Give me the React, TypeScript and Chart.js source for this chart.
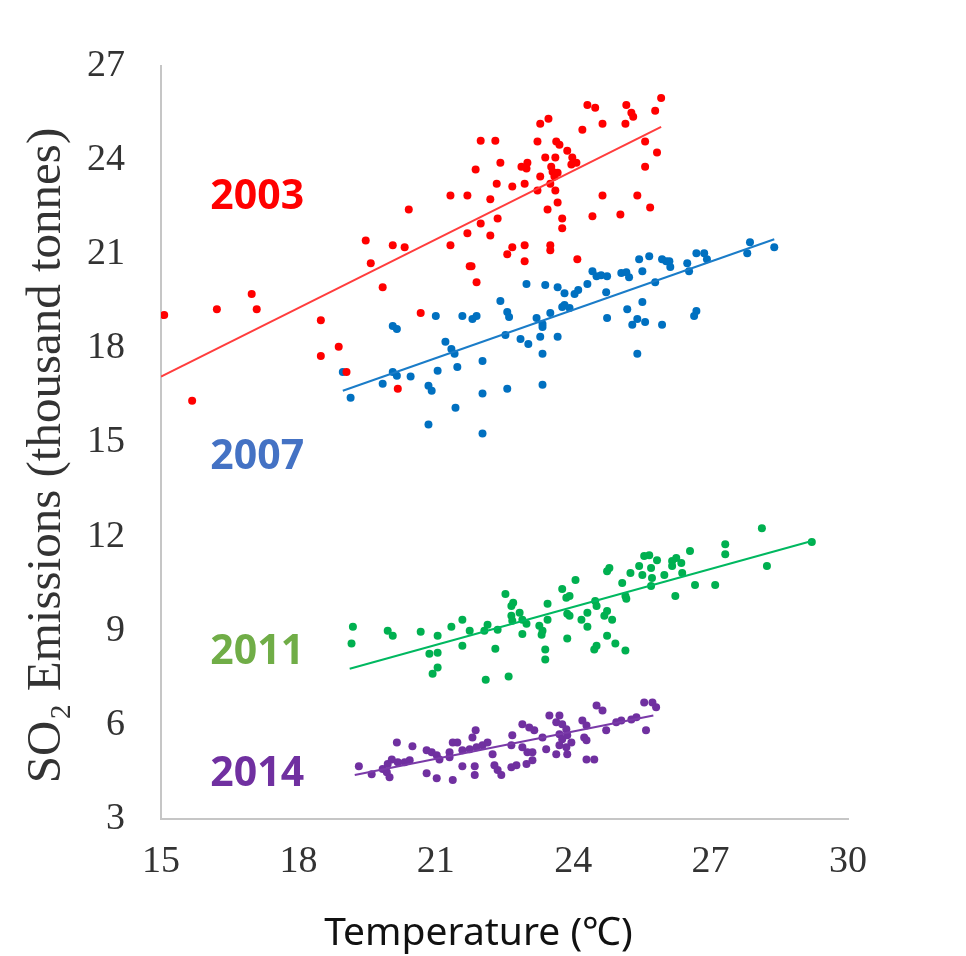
import React, { useEffect, useRef } from 'react';
import { Chart, registerables } from 'chart.js';

Chart.register(...registerables);

// ---- Data (Temperature °C vs SO2 emissions, thousand tonnes) ----
const red2003X = [15.07, 16.22, 16.98, 17.09, 18.49, 18.88, 18.49, 15.68, 19.84, 19.05, 20.17, 21.98, 22.30, 22.41, 21.87, 22.33, 22.67, 22.94, 22.87, 21.32, 21.69, 22.19, 20.41, 21.98, 22.35, 21.69, 22.19, 19.47, 20.06, 20.32, 21.32, 19.58, 22.67, 22.56, 22.94, 22.94, 21.78, 21.89, 20.67, 25.92, 25.79, 24.31, 24.48, 25.16, 25.27, 25.31, 23.46, 23.28, 24.20, 24.64, 25.14, 25.57, 25.83, 25.57, 23.22, 23.63, 23.70, 23.87, 23.39, 23.61, 23.98, 24.07, 23.96, 23.00, 22.98, 23.52, 23.55, 23.66, 23.59, 23.28, 23.50, 23.22, 23.61, 23.66, 23.44, 24.64, 25.40, 25.68, 24.42, 25.03, 23.76, 23.76, 23.50, 23.50, 24.09, 21.74];
const red2003Y = [19.06, 19.25, 19.73, 19.25, 18.90, 18.05, 17.76, 16.33, 19.95, 17.25, 16.71, 24.62, 24.62, 23.92, 23.70, 23.25, 23.16, 23.25, 23.79, 22.87, 22.87, 22.75, 22.43, 21.98, 22.14, 21.67, 21.60, 21.44, 21.29, 21.22, 21.29, 20.71, 21.22, 21.00, 21.29, 20.78, 20.62, 20.11, 19.13, 25.98, 25.57, 25.76, 25.67, 25.76, 25.51, 25.38, 25.32, 25.16, 24.97, 25.16, 25.16, 24.59, 24.24, 23.79, 24.59, 24.59, 24.49, 24.30, 24.08, 24.08, 24.08, 23.92, 23.86, 23.92, 23.73, 23.79, 23.63, 23.60, 23.48, 23.48, 23.25, 23.03, 23.03, 22.65, 22.43, 22.87, 22.87, 22.49, 22.21, 22.27, 22.14, 21.83, 21.29, 21.13, 20.84, 20.62];

const blue2007X = [18.97, 19.14, 19.84, 20.06, 20.15, 20.06, 20.15, 20.45, 20.84, 20.91, 21.00, 21.58, 21.80, 21.89, 22.41, 22.56, 22.60, 21.21, 21.34, 21.41, 21.04, 21.47, 22.02, 22.02, 21.43, 20.84, 22.02, 22.56, 22.52, 22.85, 22.98, 23.02, 23.20, 23.33, 23.33, 23.28, 23.33, 23.33, 23.39, 23.50, 23.66, 23.66, 23.76, 23.81, 23.92, 23.81, 24.03, 24.11, 24.31, 24.42, 24.51, 24.61, 24.74, 24.72, 24.74, 25.05, 25.16, 25.22, 25.51, 25.18, 25.51, 25.29, 25.40, 25.57, 25.94, 25.40, 25.79, 26.03, 27.86, 27.80, 28.39, 26.69, 26.86, 26.92, 26.49, 26.53, 26.10, 26.12, 25.94, 25.44, 25.66, 26.69, 26.64];
const blue2007Y = [17.25, 16.43, 16.87, 18.71, 18.62, 17.25, 17.13, 17.10, 16.81, 16.65, 19.03, 19.03, 18.94, 19.03, 19.51, 19.16, 19.00, 18.21, 17.98, 17.83, 17.29, 17.41, 17.60, 16.56, 16.11, 15.57, 15.29, 16.71, 18.43, 18.30, 20.05, 18.14, 18.97, 18.78, 18.68, 18.37, 17.83, 16.84, 20.02, 19.13, 19.95, 18.37, 19.32, 19.38, 19.29, 19.76, 19.73, 19.86, 20.05, 20.46, 20.30, 20.33, 20.30, 19.79, 18.97, 20.40, 20.43, 20.27, 20.46, 19.25, 19.48, 18.75, 18.94, 18.84, 18.75, 17.83, 20.11, 20.78, 21.38, 21.03, 21.22, 21.03, 21.03, 20.84, 20.71, 20.46, 20.78, 20.59, 20.84, 20.84, 20.94, 19.19, 19.03];

const green2011X = [19.19, 19.16, 19.95, 20.06, 20.67, 21.04, 20.86, 21.04, 21.04, 20.93, 21.34, 21.58, 21.58, 21.74, 22.06, 22.13, 22.35, 22.30, 22.09, 22.59, 22.52, 22.65, 22.69, 22.65, 22.67, 22.83, 22.89, 22.98, 22.89, 23.44, 23.44, 23.26, 23.33, 23.31, 23.39, 23.39, 23.76, 24.05, 23.85, 23.92, 23.87, 23.92, 23.87, 24.18, 24.31, 24.31, 24.48, 24.51, 24.51, 24.46, 24.74, 24.92, 25.14, 24.68, 24.74, 24.85, 24.74, 24.79, 25.07, 25.14, 25.16, 25.25, 25.44, 25.55, 25.66, 25.83, 25.51, 25.70, 25.72, 25.70, 25.99, 26.16, 26.25, 26.36, 26.16, 26.38, 26.55, 26.23, 26.66, 27.10, 27.32, 27.32, 28.12, 28.23, 29.21];
const green2011Y = [9.13, 8.59, 9.00, 8.84, 8.97, 8.84, 8.27, 8.30, 7.83, 7.63, 9.13, 9.35, 8.52, 9.00, 9.00, 9.19, 9.03, 8.43, 7.44, 7.54, 10.17, 9.79, 9.89, 9.48, 9.32, 9.57, 9.35, 9.22, 8.90, 9.86, 9.35, 9.16, 9.00, 8.87, 8.40, 8.08, 10.33, 10.62, 10.05, 10.11, 9.54, 9.48, 8.75, 9.35, 9.57, 9.13, 9.95, 9.79, 8.52, 8.40, 8.84, 8.59, 8.37, 9.48, 9.63, 9.35, 10.90, 11.00, 10.52, 10.11, 10.02, 10.84, 11.06, 11.38, 11.41, 11.25, 10.78, 11.00, 10.68, 10.43, 10.78, 11.22, 11.32, 11.16, 11.06, 10.84, 11.54, 10.11, 10.46, 10.46, 11.76, 11.44, 12.27, 11.06, 11.83];

const purple2014X = [19.32, 19.60, 19.84, 19.93, 19.95, 19.99, 20.04, 20.17, 20.32, 20.43, 20.15, 20.49, 20.80, 20.91, 21.02, 21.08, 20.80, 21.02, 21.30, 21.30, 21.37, 21.47, 21.37, 21.58, 21.74, 21.89, 21.58, 21.85, 21.85, 21.80, 21.87, 22.02, 22.13, 22.24, 22.28, 22.35, 22.43, 22.65, 22.76, 22.65, 22.67, 22.89, 23.04, 23.15, 22.89, 23.00, 22.98, 23.11, 23.11, 23.33, 23.41, 23.48, 23.70, 23.63, 23.76, 23.85, 23.70, 23.76, 23.87, 23.70, 23.85, 23.96, 23.63, 23.87, 24.20, 24.29, 24.24, 24.29, 24.29, 24.46, 24.51, 24.64, 24.72, 24.94, 25.05, 25.27, 25.38, 25.55, 25.73, 25.81, 25.59];
const purple2014Y = [4.68, 4.43, 4.59, 4.49, 4.75, 4.33, 4.90, 4.81, 4.81, 4.87, 5.44, 5.32, 5.19, 5.13, 5.03, 4.90, 4.46, 4.30, 5.13, 4.97, 5.44, 5.44, 4.24, 5.19, 5.22, 5.29, 4.68, 4.68, 4.40, 5.60, 5.83, 5.35, 5.44, 5.06, 4.71, 4.56, 4.40, 4.65, 4.71, 5.35, 5.67, 6.02, 5.92, 5.83, 5.29, 5.13, 4.75, 4.87, 5.13, 5.60, 5.22, 6.30, 6.30, 6.08, 6.02, 5.86, 5.70, 5.54, 5.67, 5.35, 5.29, 5.44, 5.06, 5.06, 6.14, 5.98, 5.60, 5.51, 4.90, 4.90, 6.62, 6.46, 5.83, 6.08, 6.14, 6.17, 6.24, 6.71, 6.71, 6.56, 5.83];

// Linear trend lines (endpoints)
const trend2003X = [15.0, 25.92];
const trend2003Y = [17.10, 25.06];
const trend2007X = [18.97, 28.39];
const trend2007Y = [16.65, 21.48];
const trend2011X = [19.12, 29.21];
const trend2011Y = [7.79, 11.86];
const trend2014X = [19.23, 25.75];
const trend2014Y = [4.40, 6.30];

// Year labels (positioned in data units)
const yearLabels = ['2003', '2007', '2011', '2014'];
const yearLabelX = [17.1, 17.1, 17.1, 17.1];
const yearLabelY = [22.82, 14.54, 8.32, 4.43];
const yearLabelColors = ['#ff0000', '#4472c4', '#70ad47', '#7030a0'];

const xTicks = [15, 18, 21, 24, 27, 30];
const yTicks = [3, 6, 9, 12, 15, 18, 21, 24, 27];

const xTitle = 'Temperature (℃)';
const yTitle = 'SO₂ Emissions (thousand tonnes)';

const pts = (xs: number[], ys: number[]) => xs.map((x, i) => ({ x, y: ys[i] }));

export default function App() {
  const ref = useRef<HTMLCanvasElement | null>(null);

  useEffect(() => {
    if (!ref.current) return;
    const serif = '"Liberation Serif", "Times New Roman", serif';

    const labelPlugin = {
      id: 'yearLabelsAndTitles',
      afterDatasetsDraw(chart: any) {
        const { ctx, scales, chartArea } = chart;
        const xs = scales.x;
        const ys = scales.y;
        ctx.save();
        ctx.textAlign = 'center';
        ctx.textBaseline = 'middle';
        ctx.font = 'bold 41px "Noto Sans", "Open Sans", sans-serif';
        yearLabels.forEach((t, i) => {
          ctx.fillStyle = yearLabelColors[i];
          ctx.fillText(t, xs.getPixelForValue(yearLabelX[i]), ys.getPixelForValue(yearLabelY[i]));
        });
        // x-axis title
        ctx.font = '39px "Noto Sans", "Open Sans", sans-serif';
        ctx.fillStyle = '#111111';
        ctx.fillText(xTitle, chartArea.left + (chartArea.right - chartArea.left) * 0.462, chart.height - 22);
        // y-axis title
        ctx.save();
        ctx.translate(47, (chartArea.top + chartArea.bottom) / 2 + 13);
        ctx.rotate(-Math.PI / 2);
        ctx.font = `49px ${serif}`;
        ctx.fillStyle = '#333333';
        ctx.fillText(yTitle, 0, 0);
        ctx.restore();
        ctx.restore();
      },
    };

    const dot = (color: string) => ({
      backgroundColor: color,
      borderColor: color,
      pointRadius: 4,
      pointBorderWidth: 0,
      pointHoverRadius: 4,
      showLine: false,
      order: 2,
    });
    const trend = (color: string) => ({
      borderColor: color,
      backgroundColor: color,
      borderWidth: 2,
      pointRadius: 0,
      showLine: true,
      fill: false,
      order: 1,
    });

    const chart = new Chart(ref.current, {
      type: 'scatter',
      data: {
        datasets: [
          { label: '2003', data: pts(red2003X, red2003Y), ...dot('#ff0000') },
          { label: '2007', data: pts(blue2007X, blue2007Y), ...dot('#0070c0') },
          { label: '2011', data: pts(green2011X, green2011Y), ...dot('#00b050') },
          { label: '2014', data: pts(purple2014X, purple2014Y), ...dot('#7030a0') },
          { label: 'trend 2003', data: pts(trend2003X, trend2003Y), ...trend('#ff3d3d') },
          { label: 'trend 2007', data: pts(trend2007X, trend2007Y), ...trend('#1a7cc8') },
          { label: 'trend 2011', data: pts(trend2011X, trend2011Y), ...trend('#00b860') },
          { label: 'trend 2014', data: pts(trend2014X, trend2014Y), ...trend('#7a3aa8') },
        ] as any,
      },
      options: {
        animation: false,
        responsive: true,
        maintainAspectRatio: false,
        layout: { padding: { left: 0, right: 118, top: 66, bottom: 0 } },
        plugins: {
          legend: { display: false },
          tooltip: { enabled: false },
        },
        scales: {
          x: {
            type: 'linear',
            min: 15,
            max: 30,
            afterBuildTicks: (s: any) => {
              s.ticks = xTicks.map((v) => ({ value: v }));
            },
            afterFit: (s: any) => {
              s.height = 956 - 819;
            },
            ticks: {
              font: { family: serif, size: 38 },
              color: '#333333',
              padding: 20,
              maxRotation: 0,
            },
            grid: { display: false, drawTicks: false },
            border: { display: true, color: '#c6c6c6', width: 2 },
          },
          y: {
            type: 'linear',
            min: 3,
            max: 27,
            afterBuildTicks: (s: any) => {
              s.ticks = yTicks.map((v) => ({ value: v }));
            },
            afterFit: (s: any) => {
              s.width = 161;
            },
            ticks: {
              font: { family: serif, size: 38 },
              color: '#333333',
              padding: 36,
            },
            grid: { display: false, drawTicks: false },
            border: { display: true, color: '#c6c6c6', width: 2 },
          },
        },
      },
      plugins: [labelPlugin],
    });

    return () => chart.destroy();
  }, []);

  return (
    <div style={{ position: 'fixed', left: 0, top: 0, width: 966, height: 956, background: '#ffffff' }}>
      <canvas ref={ref} />
    </div>
  );
}
